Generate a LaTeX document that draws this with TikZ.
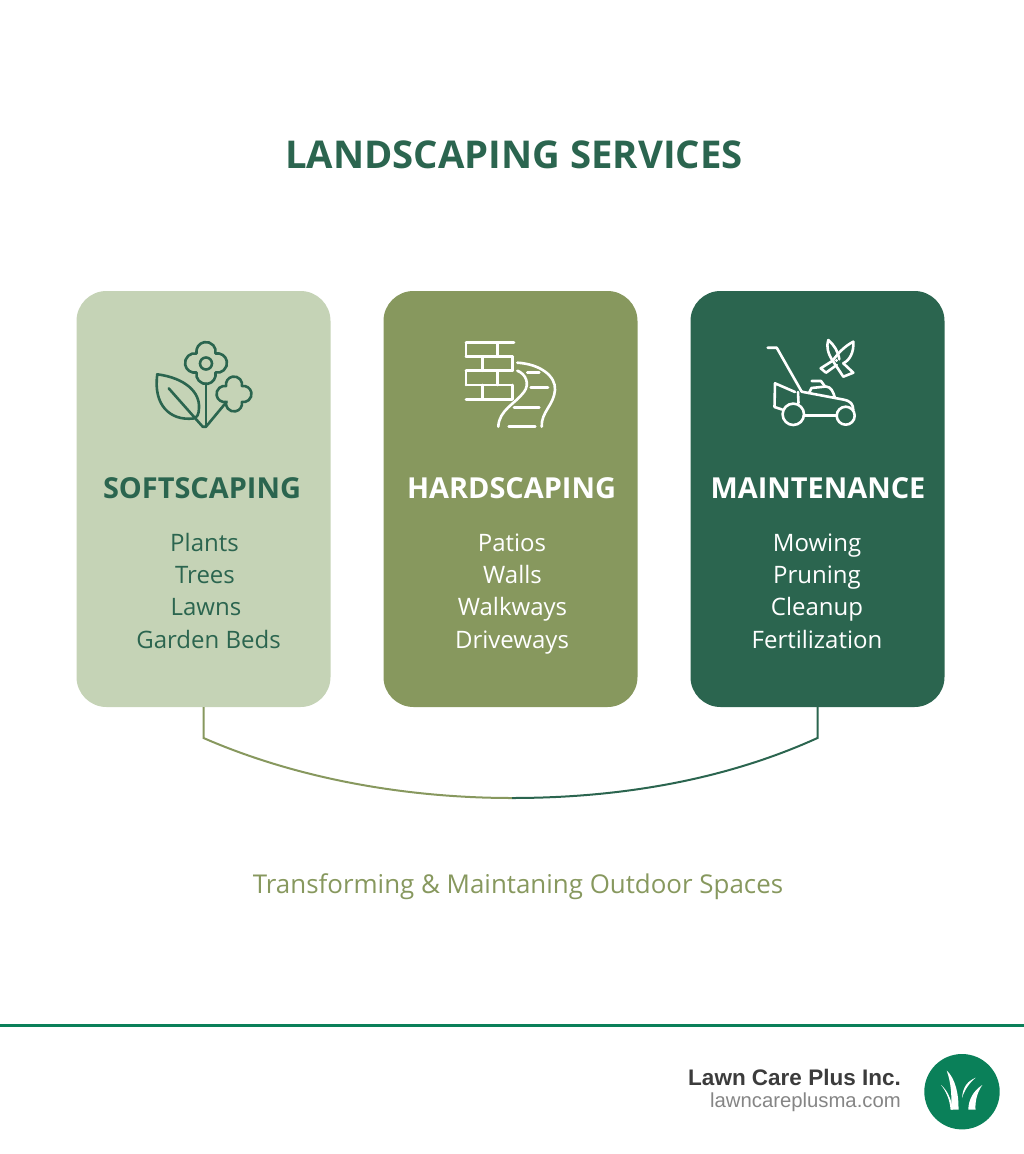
\documentclass[tikz,border=0pt]{standalone}
\usepackage{fontspec}
\setmainfont{Open Sans}
\newfontfamily\footerfont{Liberation Sans}
\definecolor{softgreen}{HTML}{C5D3B6}
\definecolor{olivegreen}{HTML}{87985E}
\definecolor{deepgreen}{HTML}{2B654F}
\definecolor{brandgreen}{HTML}{0A8059}
\definecolor{footerdark}{HTML}{3C3C3C}
\definecolor{footergray}{HTML}{858585}
\tikzset{
    cardbox/.style={rounded corners=30pt,minimum width=254pt,minimum height=416pt,inner sep=0pt},
    headtext/.style={font=\fontsize{28.9}{32}\selectfont\bfseries,anchor=base},
    itemtext/.style={font=\fontsize{24}{32}\selectfont,anchor=base},
    iconline/.style={line width=2.6pt,line cap=round,line join=round},
}
\newcommand{\cloverpath}[4]{% x, y, outer radius, colour
    \draw[iconline,#4] ({#1+.452*#3},{#2-.452*#3})
        arc[start angle=-101,end angle=101,radius={.46*#3}]
        arc[start angle=-11,end angle=191,radius={.46*#3}]
        arc[start angle=79,end angle=281,radius={.46*#3}]
        arc[start angle=169,end angle=371,radius={.46*#3}] -- cycle;
}
\begin{document}
\begin{tikzpicture}[x=1pt,y=-1pt]
    \useasboundingbox (0,0) rectangle (1024,1154);

    % Title
    \node[font=\fontsize{38.3}{42}\selectfont\bfseries,text=deepgreen] (title) at (514,155) {LANDSCAPING SERVICES};

    % Cards
    \node[cardbox,fill=softgreen] (softbox) at (203.5,499) {};
    \node[cardbox,fill=olivegreen] (hardbox) at (510.5,499) {};
    \node[cardbox,fill=deepgreen] (maintbox) at (817.5,499) {};

    % Card headings
    \node[headtext,text=deepgreen] (softhead) at (202,498) {SOFTSCAPING};
    \node[headtext,text=white] (hardhead) at (511.5,498) {HARDSCAPING};
    \node[headtext,text=white] (mainthead) at (818,498) {MAINTENANCE};

    % Card items
    \node[itemtext,text=deepgreen] (plants) at (204.5,551) {Plants};
    \node[itemtext,text=deepgreen] (trees) at (205,583.4) {Trees};
    \node[itemtext,text=deepgreen] (lawns) at (206,615.8) {Lawns};
    \node[itemtext,text=deepgreen] (beds) at (208.5,648) {Garden Beds};
    \node[itemtext,text=white] (patios) at (512,551) {Patios};
    \node[itemtext,text=white] (walls) at (512.5,583.4) {Walls};
    \node[itemtext,text=white] (walkways) at (512.5,615.8) {Walkways};
    \node[itemtext,text=white] (driveways) at (512,648) {Driveways};
    \node[itemtext,text=white] (mowing) at (817,551) {Mowing};
    \node[itemtext,text=white] (pruning) at (817,583.4) {Pruning};
    \node[itemtext,text=white] (cleanup) at (817,615.8) {Cleanup};
    \node[itemtext,text=white] (fertilization) at (817,648) {Fertilization};

    % Flower icon
    \cloverpath{206}{363}{21}{deepgreen}
    \draw[iconline,deepgreen] (206,363.5) circle (6);
    \cloverpath{234}{394}{17.5}{deepgreen}
    \draw[iconline,deepgreen] (157.3,374.3) .. controls (185,378) and (200,392) .. (199,408)
        .. controls (199,414) and (197,418) .. (193.3,418.5)
        .. controls (170,421) and (153,405) .. (157.3,374.3) -- cycle;
    \draw[iconline,deepgreen] (168.7,388.3) -- (202.7,426.7) -- (206,426.7) -- (226.7,401.7);
    \draw[iconline,deepgreen] (206,383.5) -- (206,426.7);

    % Brick wall icon
    \draw[iconline,white] (466,342.7) -- (514,342.7) (466,342.7) -- (466,356.7) (497.3,342.7) -- (497.3,356.7);
    \draw[iconline,white] (466,356.7) -- (512.7,356.7) (482.7,356.7) -- (482.7,370.7) (512.7,356.7) -- (512.7,370.7);
    \draw[iconline,white] (466,370.7) -- (512.7,370.7) (466,370.7) -- (466,385) (497.3,370.7) -- (497.3,385);
    \draw[iconline,white] (466,385) -- (512.7,385) (482.7,385) -- (482.7,399.3) (512.7,385) -- (512.7,399.3);
    \draw[iconline,white] (466,399.3) -- (512,399.3);

    % Path icon
    \draw[iconline,white] (517.3,362.7) .. controls (540,364) and (556,376) .. (555,390)
        .. controls (554,405) and (541,412) .. (541.7,426.7);
    \draw[iconline,white] (517.3,370.7) .. controls (526,374) and (530,384) .. (524,392)
        .. controls (515,404) and (499,410) .. (498.3,426.7);
    \draw[iconline,white] (527.3,372.7) -- (539.3,372.7);
    \draw[iconline,white] (530.7,387.7) -- (548,387.7);
    \draw[iconline,white] (514,407.3) -- (539.3,407.3);
    \draw[iconline,white] (508.7,426.3) -- (535.3,426.3);

    % Mower icon
    \draw[iconline,white] (767.7,347.7) -- (776.7,347.7) -- (801.7,391.7);
    \draw[iconline,white] (795,392) -- (775,383.3) -- (774.5,407) -- (782,409.5);
    \draw[iconline,white] (798,392) -- (798.5,403);
    \draw[iconline,white] (793.3,414.3) circle (10.7);
    \draw[iconline,white] (845.7,415.7) circle (9);
    \draw[iconline,white] (804,415.7) -- (836.7,415.7);
    \draw[iconline,white] (801.7,391.7) -- (843,399.5) .. controls (851,401) and (853,404) .. (853.3,410);
    \draw[iconline,white] (809,393) -- (811.5,388) -- (826,386.5) .. controls (831,387) and (833,391) .. (835,398);
    \draw[iconline,white] (811.7,381) -- (821,381) -- (825,386.5);

    % Pruner icon
    \draw[iconline,white] (828.3,340) .. controls (826,346) and (828,354) .. (832.7,360.7)
        -- (843.3,376.7) -- (853.3,372.7) -- (843.3,363.3);
    \draw[iconline,white] (839.3,359.3) .. controls (838,351) and (834,345) .. (828.3,340);
    \draw[iconline,white] (853.3,341.7) .. controls (845,346) and (838,353) .. (832.7,360.7)
        -- (820.7,368.3) -- (826,372.7) -- (836.7,365);
    \draw[iconline,white] (843.3,363.3) .. controls (850,360) and (854,352) .. (853.3,341.7);
    \fill[white] (836.5,360.5) circle (1.6);

    % Connector
    \coordinate (softbend) at (softbox.south |- 0,738);
    \coordinate (maintbend) at (maintbox.south |- 0,738);
    \coordinate (midlow) at (512,798);
    \draw[line width=2pt,olivegreen] (softbox.south) -- (softbend) .. controls (300,780) and (410,798) .. (midlow);
    \draw[line width=2pt,deepgreen] (midlow) .. controls (620,798) and (725,780) .. (maintbend) -- (maintbox.south);

    % Caption
    \node[font=\fontsize{25.9}{30}\selectfont,text=olivegreen] (caption) at (518,887) {Transforming \& Maintaning Outdoor Spaces};

    % Footer
    \coordinate (ruleleft) at (0,1025.3);
    \coordinate (ruleright) at (1024,1025.3);
    \draw[line width=2.8pt,brandgreen] (ruleleft) -- (ruleright);
    \node[anchor=base east,inner sep=0pt,font=\footerfont\fontsize{22.5}{26}\selectfont\bfseries,text=footerdark] (brandname) at (901,1085.7) {Lawn Care Plus Inc.};
    \node[anchor=base east,inner sep=0pt,font=\footerfont\fontsize{20.3}{24}\selectfont,text=footergray] (brandurl) at (901,1107) {lawncareplusma.com};
    \node[circle,fill=brandgreen,minimum size=75.4pt,inner sep=0pt] (logo) at (962,1091.7) {};
    \fill[white] (946.7,1070.5) .. controls (955,1078) and (959,1094) .. (958.5,1109.5) -- (951,1109.5) .. controls (952,1095) and (951,1083) .. (946.7,1070.5) -- cycle;
    \fill[white] (941,1085) .. controls (947,1090) and (951,1098) .. (953,1109.5) -- (950.5,1109.5) .. controls (950,1100) and (946,1091) .. (941,1085) -- cycle;
    \fill[white] (975.7,1077.7) .. controls (968,1081) and (963,1086) .. (962,1098) .. controls (964,1091) and (969,1083) .. (975.7,1077.7) -- cycle;
    \fill[white] (982.3,1085) .. controls (973,1091) and (968.5,1100) .. (968.3,1109.5) -- (975.5,1109.5) .. controls (975,1100) and (977.5,1092) .. (982.3,1085) -- cycle;
\end{tikzpicture}
\end{document}
